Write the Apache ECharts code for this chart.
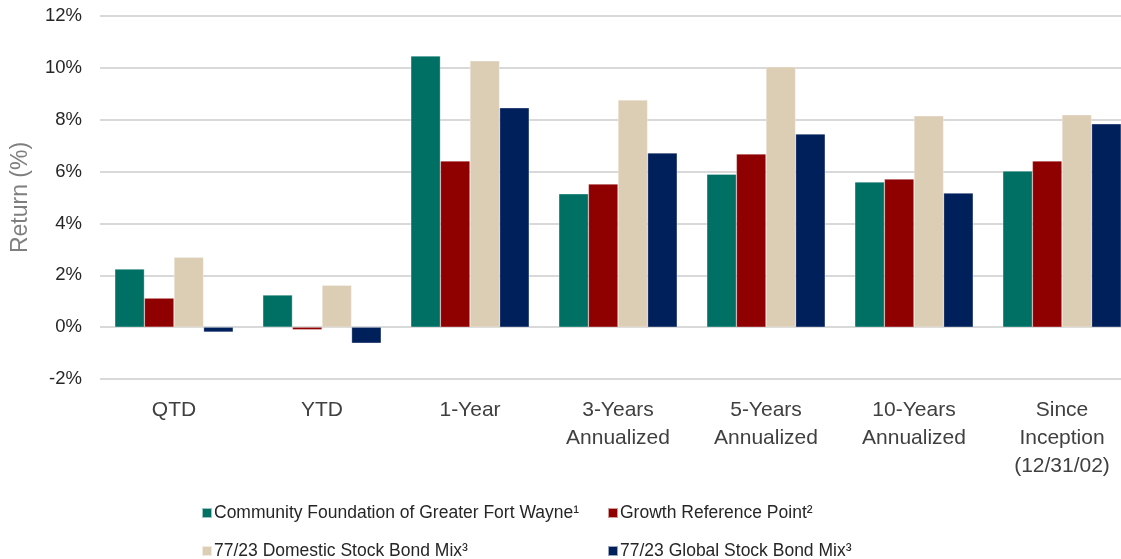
<!DOCTYPE html>
<html><head><meta charset="utf-8">
<script src="https://cdn.jsdelivr.net/npm/echarts@6/dist/echarts.min.js"></script>
<style>html,body{margin:0;padding:0;background:#fff}#c{width:1121px;height:559px}</style>
</head><body><div id="c"></div>
<script>
const categories = ['QTD','YTD','1-Year','3-Years\nAnnualized','5-Years\nAnnualized','10-Years\nAnnualized','Since\nInception\n(12/31/02)'];
const seriesNames = ['Community Foundation of Greater Fort Wayne¹','Growth Reference Point²','77/23 Domestic Stock Bond Mix³','77/23 Global Stock Bond Mix³'];
const cfgfw = [2.24, 1.24, 10.46, 5.14, 5.90, 5.60, 6.02];
const growthRef = [1.12, -0.10, 6.41, 5.52, 6.68, 5.71, 6.41];
const domestic = [2.70, 1.62, 10.27, 8.76, 10.04, 8.15, 8.19];
const global = [-0.19, -0.62, 8.46, 6.72, 7.45, 5.17, 7.84];
const colors = ['#007064','#8f0000','#dccdb5','#00205b'];
const yTicks = {min:-2, max:12, interval:2};
const font = "'Liberation Sans', Arial, sans-serif";

const chart = echarts.init(document.getElementById('c'));
const data = [cfgfw, growthRef, domestic, global];
const legendPos = [[196,499],[602,499],[196,537],[602,537]];
chart.setOption({
  animation:false,
  textStyle:{fontFamily:font},
  grid:{left:100,width:1036,top:16,bottom:180,outerBoundsMode:'none',containLabel:false},
  legend: seriesNames.map((n,i)=>({
    data:[n], left:legendPos[i][0], top:legendPos[i][1], itemWidth:10, itemHeight:10, itemGap:0,
    textStyle:{fontSize:17.5, color:'#262626', fontFamily:font, padding:[0,0,0,-3]}, icon:'rect', selectedMode:false
  })),
  xAxis:{type:'category', data:categories,
    axisLine:{show:false}, axisTick:{show:false},
    axisLabel:{fontSize:21, color:'#404040', lineHeight:28, margin:17, interval:0}},
  yAxis:{type:'value', min:yTicks.min, max:yTicks.max, interval:yTicks.interval,
    name:'Return (%)', nameLocation:'middle', nameGap:68, nameTextStyle:{fontSize:23, color:'#7f7f7f'},
    axisLabel:{formatter:'{value}%', fontSize:18.5, color:'#262626', margin:18},
    splitLine:{lineStyle:{color:'#d9d9d9', width:2}}},
  series: seriesNames.map((n,i)=>({
    name:n, type:'bar', data:data[i], barGap:'0%', barCategoryGap:'20%',
    itemStyle:{color:colors[i], borderColor:'rgba(255,255,255,0.6)', borderWidth:0.5}
  }))
});
</script></body></html>
